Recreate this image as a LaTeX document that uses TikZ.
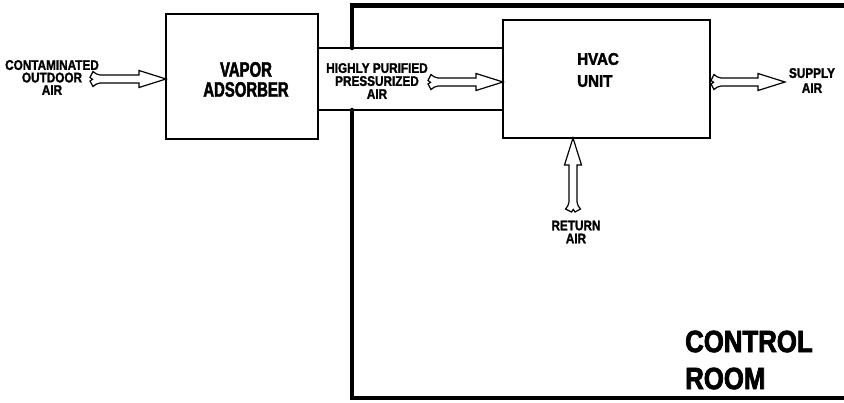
\documentclass[tikz,border=0pt]{standalone}
\usepackage{fontspec}
\newfontfamily\fsmall[FakeStretch=0.84,FakeBold=1.5]{Liberation Sans}
\newfontfamily\fvapor[FakeStretch=0.71,FakeBold=2]{Liberation Sans}
\newfontfamily\fhvac[FakeStretch=0.9,FakeBold=2]{Liberation Sans}
\newfontfamily\froom[FakeStretch=0.84,FakeBold=2.5]{Liberation Sans}
\tikzset{
  box/.style={draw=black, line width=1.3pt, rectangle, inner sep=0pt},
  smalltxt/.style={inner sep=0pt, align=center, font=\fsmall\bfseries\fontsize{14}{13}\selectfont},
  roomline/.style={line width=4.5pt, line cap=round, line join=miter},
  ductline/.style={line width=1.3pt},
  arrowline/.style={draw=black, fill=white, line width=1.2pt, line join=miter},
}
\newcommand\fatarrow[1]{%
  \draw[arrowline] (10,-4) -- (#1-27,-4) -- (#1-27,-8.5) -- (#1,0) -- (#1-27,8.5) -- (#1-27,4) -- (10,4)
    .. controls (7,4) and (5,6) .. (3,7.5) -- (0,2) -- (2.5,0.3) -- (0,-1.5) -- (3,-7.5)
    .. controls (5,-6) and (7,-4) .. cycle;}
\begin{document}
\begin{tikzpicture}[x=1pt,y=-1pt]
\useasboundingbox (0,0) rectangle (844,402);
% control room walls
\draw[roomline] (352,48) -- (352,5.5) -- (850,5.5);
\draw[roomline] (352,110) -- (352,398) -- (850,398);
% boxes
\node[box, minimum width=152, minimum height=125] (vapor) at (242,76.5) {};
\node[box, minimum width=207, minimum height=118] (hvac) at (606.5,79) {};
% duct
\draw[ductline] (vapor.east |- 0,48) -- (hvac.west |- 0,48);
\draw[ductline] (vapor.east |- 0,110) -- (hvac.west |- 0,110);
% arrows
\coordinate (t1) at (90,79);
\begin{scope}[shift={(t1)}]\fatarrow{76}\end{scope}
\coordinate (t2) at (428,82);
\begin{scope}[shift={(t2)}]\fatarrow{75}\end{scope}
\coordinate (t3) at (711,82);
\begin{scope}[shift={(t3)}]\fatarrow{74}\end{scope}
\coordinate (t4) at (573,212);
\begin{scope}[shift={(t4)},rotate=90]\fatarrow{74}\end{scope}
% texts
\node[smalltxt, font=\fsmall\bfseries\fontsize{14}{12.5}\selectfont] (contam) at (52,77.5) {CONTAMINATED\\OUTDOOR\\AIR};
\node[smalltxt] (purif) at (377,81) {HIGHLY PURIFIED\\PRESSURIZED\\AIR};
\node[smalltxt, font=\fsmall\bfseries\fontsize{14}{15}\selectfont] (supply) at (812,80.5) {SUPPLY\\AIR};
\node[smalltxt, font=\fsmall\bfseries\fontsize{14}{13}\selectfont] (return) at (576,232) {RETURN\\AIR};
\node[inner sep=0pt, align=center, font=\fvapor\bfseries\fontsize{21}{20}\selectfont] (vtxt) at (246,79.5) {VAPOR\\ADSORBER};
\node[inner sep=0pt, align=left, anchor=west, font=\fhvac\bfseries\fontsize{16.8}{22}\selectfont] (htxt) at (577,70) {HVAC\\UNIT};
\node[inner sep=0pt, align=left, anchor=west, font=\froom\bfseries\fontsize{30.7}{37}\selectfont] (rtxt) at (685,360) {CONTROL\\ROOM};
\end{tikzpicture}
\end{document}
